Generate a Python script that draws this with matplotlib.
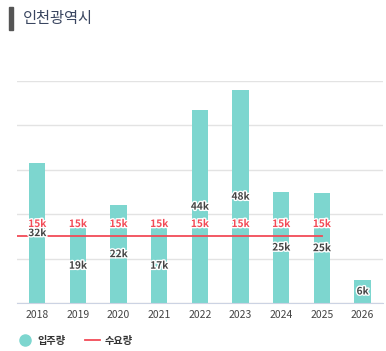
import matplotlib
matplotlib.use("Agg")
import matplotlib.pyplot as plt
import matplotlib.patheffects as pe
from matplotlib.lines import Line2D
import numpy as np

plt.rcParams['font.family'] = ['Noto Sans CJK KR', 'DejaVu Sans']

years = ['2018', '2019', '2020', '2021', '2022', '2023', '2024', '2025', '2026']
supply = [31500, 16800, 22000, 16800, 43400, 47900, 25000, 24700, 5200]
supply_labels = ['32k', '19k', '22k', '17k', '44k', '48k', '25k', '25k', '6k']
demand = [15200, 15200, 15200, 15200, 15200, 15200, 15200, 15200]
demand_labels = ['15k'] * 8

BAR = '#7dd6cf'
RED = '#f24b57'

fig = plt.figure(figsize=(3.86, 3.51), dpi=100)
ax = fig.add_axes([0.044, 0.1368, 0.948, 0.6322])

x = np.arange(len(years))
ax.bar(x, supply, width=0.4, color=BAR, zorder=2)

# demand line runs from the left edge to the last demand point
dx = np.arange(len(demand))
ax.plot(np.r_[-0.5, dx], np.r_[demand[0], demand], color=RED, lw=1.3, zorder=3)

stroke = [pe.withStroke(linewidth=2, foreground='white')]
for i, (v, lab) in enumerate(zip(supply, supply_labels)):
    ax.text(i, v / 2, lab, ha='center', va='center', fontsize=7.3, color='#444444',
            fontweight='bold', path_effects=stroke, zorder=5)
for i, (v, lab) in enumerate(zip(demand, demand_labels)):
    ax.text(i, v + 2600, lab, ha='center', va='center', fontsize=7.3, color=RED,
            fontweight='bold', path_effects=stroke, zorder=5)

ax.set_xlim(-0.5, len(years) - 0.5)
ax.set_ylim(0, 50000)
ax.set_yticks(np.arange(0, 50001, 10000))
ax.set_yticklabels([])
ax.tick_params(axis='y', length=0)
ax.grid(axis='y', color='#e3e3e3', lw=1.0, zorder=0)
ax.set_xticks(x)
ax.set_xticklabels(years, fontsize=7.5, color='#444444')
ax.tick_params(axis='x', length=0, pad=5)
for s in ['top', 'right', 'left']:
    ax.spines[s].set_visible(False)
ax.spines['bottom'].set_color('#ccd3e3')

# title with side marker
fig.patches.append(plt.Rectangle((9 / 386, 1 - 30 / 351), 4 / 386, 23 / 351,
                                 transform=fig.transFigure, color='#555555'))
fig.text(23 / 386, 1 - 18 / 351, '인천광역시', fontsize=11, color='#3a4660',
         va='center', ha='left')

# legend
handles = [Line2D([], [], marker='o', ls='none', color=BAR, markersize=8),
           Line2D([], [], color=RED, lw=1.3)]
leg = fig.legend(handles, ['입주량', '수요량'], loc='center left',
                 bbox_to_anchor=(8 / 386, 1 - 341 / 351), ncol=2, frameon=False,
                 prop={'size': 7.3, 'weight': 'bold'}, handlelength=1.5,
                 columnspacing=1.9, handletextpad=0.5)
for t in leg.get_texts():
    t.set_color('#333333')

fig.savefig('out.png', dpi=100)
